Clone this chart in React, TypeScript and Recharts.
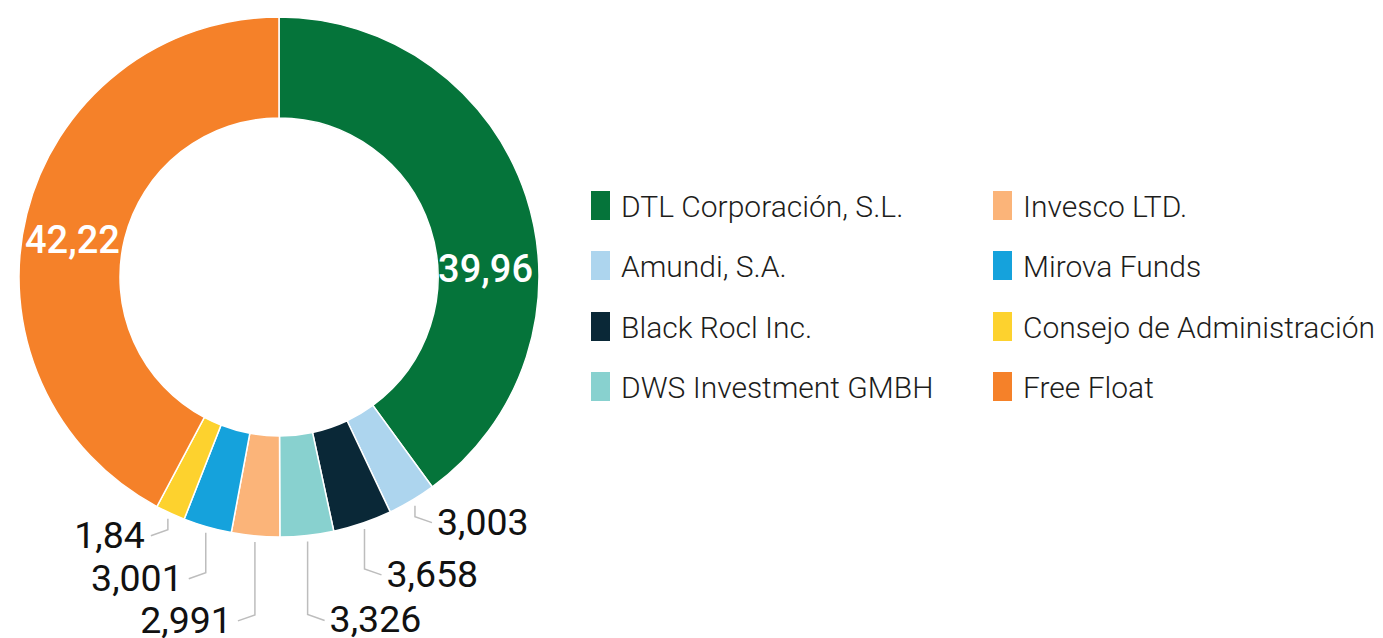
import React from 'react';
import { Legend, Pie, PieChart } from 'recharts';

// shareholders, clockwise from 12 o'clock
const holders = [
  'DTL Corporación, S.L.',
  'Amundi, S.A.',
  'Black Rocl Inc.',
  'DWS Investment GMBH',
  'Invesco LTD.',
  'Mirova Funds',
  'Consejo de Administración',
  'Free Float',
];
const shares = [39.96, 3.003, 3.658, 3.326, 2.991, 3.001, 1.84, 42.22];
const colors = ['#05743A', '#ADD5EE', '#0A2837', '#88D1CF', '#FBB479', '#15A2DC', '#FDD22E', '#F58129'];

// which row of outside labels each small slice goes to (0 = closest)
const LABEL_TIER: Record<number, number> = { 1: 0, 2: 1, 3: 2, 4: 2, 5: 1, 6: 0 };
const TIER_DROP = [11, 40, 73];

const RAD = Math.PI / 180;
const FONT = 'Roboto, "Noto Sans", sans-serif';

const fmt = (v: number) => String(v).replace('.', ',');

const chartData = holders.map((name, i) => ({ name, value: shares[i], fill: colors[i] }));

const renderLabel = (props: any) => {
  const { cx, cy, midAngle, outerRadius, index, value } = props;

  // the two big slices get white text inside the ring
  if (index === 0) {
    return (
      <text x={cx + outerRadius - 6} y={cy + 5} fill="#fff" textAnchor="end" fontSize={38} fontFamily={FONT} fontWeight={500}>
        {fmt(value)}
      </text>
    );
  }
  if (index === holders.length - 1) {
    return (
      <text x={cx - outerRadius + 6} y={cy - 24} fill="#fff" textAnchor="start" fontSize={38} fontFamily={FONT} fontWeight={500}>
        {fmt(value)}
      </text>
    );
  }

  const r = outerRadius + 6;
  const sx = cx + r * Math.cos(-midAngle * RAD);
  const sy = cy + r * Math.sin(-midAngle * RAD);
  const right = sx > cx;
  const my = sy + TIER_DROP[LABEL_TIER[index] ?? 0];
  const ex = sx + (right ? 17 : -17);
  const ey = my + 6;

  return (
    <g>
      <polyline points={`${sx},${sy} ${sx},${my} ${ex},${ey}`} fill="none" stroke="#BDBDBD" strokeWidth={1.5} />
      <text
        x={ex + (right ? 5 : -6)}
        y={ey - 1}
        dominantBaseline="central"
        textAnchor={right ? 'start' : 'end'}
        fill="#111"
        fontSize={37.5}
        fontFamily={FONT}
      >
        {fmt(value)}
      </text>
    </g>
  );
};

// legend in data order, two columns of four
const renderLegend = () => (
  <div
    style={{
      display: 'grid',
      gridAutoFlow: 'column',
      gridTemplateRows: 'repeat(4, 60.3px)',
      gridTemplateColumns: '402px auto',
      fontFamily: FONT,
      fontSize: 30,
      fontWeight: 300,
      color: '#1d1d1b',
    }}
  >
    {holders.map((name, i) => (
      <div key={name} style={{ display: 'flex', alignItems: 'flex-start', whiteSpace: 'nowrap' }}>
        <span style={{ display: 'inline-block', width: 19, height: 29, background: colors[i], marginRight: 11 }} />
        <span style={{ lineHeight: '31px' }}>{name}</span>
      </div>
    ))}
  </div>
);

export default function App() {
  return (
    <div style={{ position: 'absolute', left: 0, top: 0, background: '#fff' }}>
      <PieChart width={1383} height={638} margin={{ top: 0, right: 0, bottom: 0, left: 0 }}>
        <Pie
          data={chartData}
          dataKey="value"
          nameKey="name"
          cx={279}
          cy={277}
          innerRadius={159}
          outerRadius={260}
          startAngle={90}
          endAngle={-270}
          stroke="#fff"
          strokeWidth={1.5}
          label={renderLabel}
          labelLine={false}
          isAnimationActive={false}
        />
        <Legend
          content={renderLegend}
          wrapperStyle={{ left: 591, top: 191, width: 'auto', bottom: 'auto' }}
        />
      </PieChart>
    </div>
  );
}
